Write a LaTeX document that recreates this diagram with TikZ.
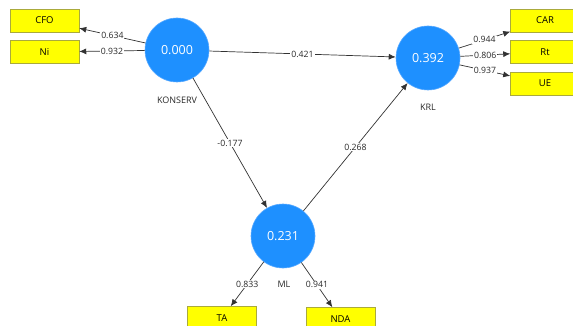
\documentclass[tikz,border=0pt]{standalone}
\usepackage{fontspec}
\setmainfont{Open Sans}
\usetikzlibrary{arrows.meta}
\definecolor{lvblue}{RGB}{30,144,255}
\definecolor{lvedge}{RGB}{90,170,255}
\definecolor{indyel}{RGB}{255,255,0}
\definecolor{indedge}{RGB}{170,170,60}
\definecolor{edgegray}{RGB}{50,50,50}
\definecolor{lbltext}{RGB}{40,40,40}
\tikzset{
  latent/.style={circle, fill=lvblue, draw=lvedge, line width=0.6pt, minimum size=64pt, inner sep=0pt, text=white, font=\fontsize{12.5}{14}\selectfont},
  indicator/.style={rectangle, fill=indyel, draw=indedge, line width=0.5pt, minimum width=69pt, minimum height=23pt, inner sep=0pt, font=\fontsize{9.5}{11}\selectfont},
  lvname/.style={font=\fontsize{9}{11}\selectfont, text=lbltext, inner sep=0pt},
  path/.style={draw=edgegray, line width=0.7pt, -{Latex[length=7pt,width=6pt]}},
  coef/.style={fill=white, text=lbltext, font=\fontsize{8.7}{10}\selectfont, inner sep=1pt}
}
\begin{document}
\begin{tikzpicture}[x=1pt,y=-1pt]
\useasboundingbox (0,0) rectangle (573,326);
\clip (0,0) rectangle (573,326);
% latent variables
\node[latent] (konserv) at (177,50) {0.000};
\node[latent] (krl) at (428,58) {0.392};
\node[latent] (ml) at (283,236) {0.231};
\node[lvname] (lkonserv) at (177,100) {KONSERV};
\node[lvname] (lkrl) at (428,107) {KRL};
\node[lvname] (lml) at (284,284) {ML};
% indicators
\node[indicator] (cfo) at (44.5,20.5) {CFO};
\node[indicator] (ni) at (44.5,52) {Ni};
\node[indicator] (car) at (545,20.5) {CAR};
\node[indicator] (rt) at (545,52) {Rt};
\node[indicator] (ue) at (545,83.5) {UE};
\node[indicator] (ta) at (222,318) {TA};
\node[indicator] (nda) at (340.5,319) {NDA};
% structural paths
\draw[path] (konserv) -- node[coef] {0.421} (krl);
\draw[path] (konserv) -- node[coef] {-0.177} (ml);
\draw[path] (ml) -- node[coef] {0.268} (krl);
% outer loadings
\draw[path] (konserv) -- node[coef] {0.634} (cfo);
\draw[path] (konserv) -- node[coef] {0.932} (ni);
\draw[path] (krl) -- node[coef] {0.944} (car);
\draw[path] (krl) -- node[coef] {0.806} (rt);
\draw[path] (krl) -- node[coef] {0.937} (ue);
\draw[path] (ml) -- node[coef] {0.833} (ta);
\draw[path] (ml) -- node[coef] {0.941} (nda);
\end{tikzpicture}
\end{document}
